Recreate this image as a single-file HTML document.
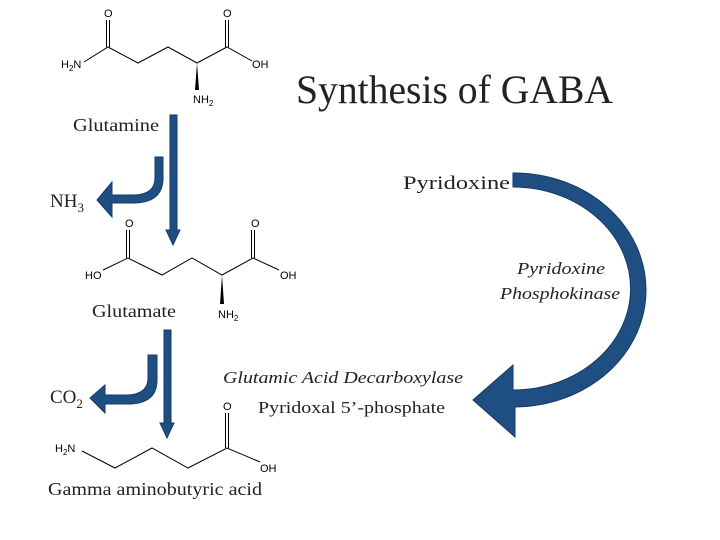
<!DOCTYPE html>
<html><head><style>html,body{margin:0;padding:0;background:#fff}svg{display:block}</style></head>
<body>
<svg width="720" height="540" viewBox="0 0 720 540" xmlns="http://www.w3.org/2000/svg">
<rect width="720" height="540" fill="#fff"/>
<g font-family="Liberation Serif, serif" fill="#222">
<text x="296" y="103" font-size="40" textLength="317" lengthAdjust="spacingAndGlyphs">Synthesis of GABA</text>
<text x="73" y="131" font-size="18" textLength="86" lengthAdjust="spacingAndGlyphs">Glutamine</text>
<text x="50" y="207" font-size="19">NH<tspan font-size="13" dy="5">3</tspan></text>
<text x="403" y="189" font-size="19" textLength="107" lengthAdjust="spacingAndGlyphs">Pyridoxine</text>
<text x="517" y="274" font-size="17" font-style="italic" textLength="88" lengthAdjust="spacingAndGlyphs">Pyridoxine</text>
<text x="560" y="299" font-size="17" font-style="italic" text-anchor="middle" textLength="120" lengthAdjust="spacingAndGlyphs">Phosphokinase</text>
<text x="92" y="317" font-size="18" textLength="84" lengthAdjust="spacingAndGlyphs">Glutamate</text>
<text x="50" y="403" font-size="19">CO<tspan font-size="13" dy="5">2</tspan></text>
<text x="223" y="383" font-size="17" font-style="italic" textLength="240" lengthAdjust="spacingAndGlyphs">Glutamic Acid Decarboxylase</text>
<text x="258" y="413" font-size="17" textLength="187" lengthAdjust="spacingAndGlyphs">Pyridoxal 5’-phosphate</text>
<text x="48" y="495" font-size="18" textLength="214" lengthAdjust="spacingAndGlyphs">Gamma aminobutyric acid</text>
</g>
<g font-family="Liberation Sans, sans-serif" font-size="11" fill="#000">
<text x="61" y="68">H<tspan font-size="8" dy="3">2</tspan><tspan dy="-3">N</tspan></text>
<text x="104" y="17">O</text><text x="223" y="17">O</text>
<text x="252" y="68">OH</text>
<text x="193" y="103">NH<tspan font-size="8" dy="3">2</tspan></text>
<text x="85" y="279">HO</text><text x="125" y="227">O</text><text x="251" y="227">O</text>
<text x="280" y="279">OH</text>
<text x="218" y="318">NH<tspan font-size="8" dy="3">2</tspan></text>
<text x="55" y="452">H<tspan font-size="8" dy="3">2</tspan><tspan dy="-3">N</tspan></text>
<text x="223" y="410">O</text>
<text x="260" y="472">OH</text>
</g>
<g stroke="#000" stroke-width="1" fill="none">
<polyline points="84,62 108,47 138,63 168,47 197,63 227,47 252,61"/>
<line x1="106.5" y1="47" x2="106.5" y2="20"/><line x1="109.5" y1="47" x2="109.5" y2="20"/>
<line x1="225.5" y1="47" x2="225.5" y2="20"/><line x1="228.5" y1="47" x2="228.5" y2="20"/>
<polyline points="103,270 128,258 162,275 192,258 222,275 253,258 279,270"/>
<line x1="126.5" y1="258" x2="126.5" y2="230"/><line x1="129.5" y1="258" x2="129.5" y2="230"/>
<line x1="251.5" y1="258" x2="251.5" y2="230"/><line x1="254.5" y1="258" x2="254.5" y2="230"/>
<polyline points="82,451 115,468 152,448 188,468 227,448 260,462"/>
<line x1="225.5" y1="448" x2="225.5" y2="413"/><line x1="228.5" y1="448" x2="228.5" y2="413"/>
</g>
<polygon points="197,63 195,90 199,90" fill="#000"/>
<polygon points="222,275 220,304 224,304" fill="#000"/>
<g fill="#1f4e82" stroke="#163a63" stroke-width="1">
<polygon points="170,115 177,115 177,230 180,230 173,245 166,230 170,230"/>
<polygon points="164,330 171,330 171,423 174,423 167,438 160,423 164,423"/>
<path d="M155,157 L163,157 L163,178 Q163,202 135,203 L112,203 L112,217 L97,200 L112,182 L112,195 L135,195 Q155,194 155,178 Z"/>
<path d="M148,355 L157,355 L157,380 Q157,403 130,404 L105,404 L105,413 L90,398 L105,385 L105,395 L128,395 Q148,394 148,378 Z"/>
<path d="M513,173 A132 117 0 0 1 515,407 L515,437 L473,400 L513,365 L513,390 A117 101 0 0 0 513,187 Z"/>
</g>
</svg>
</body></html>
